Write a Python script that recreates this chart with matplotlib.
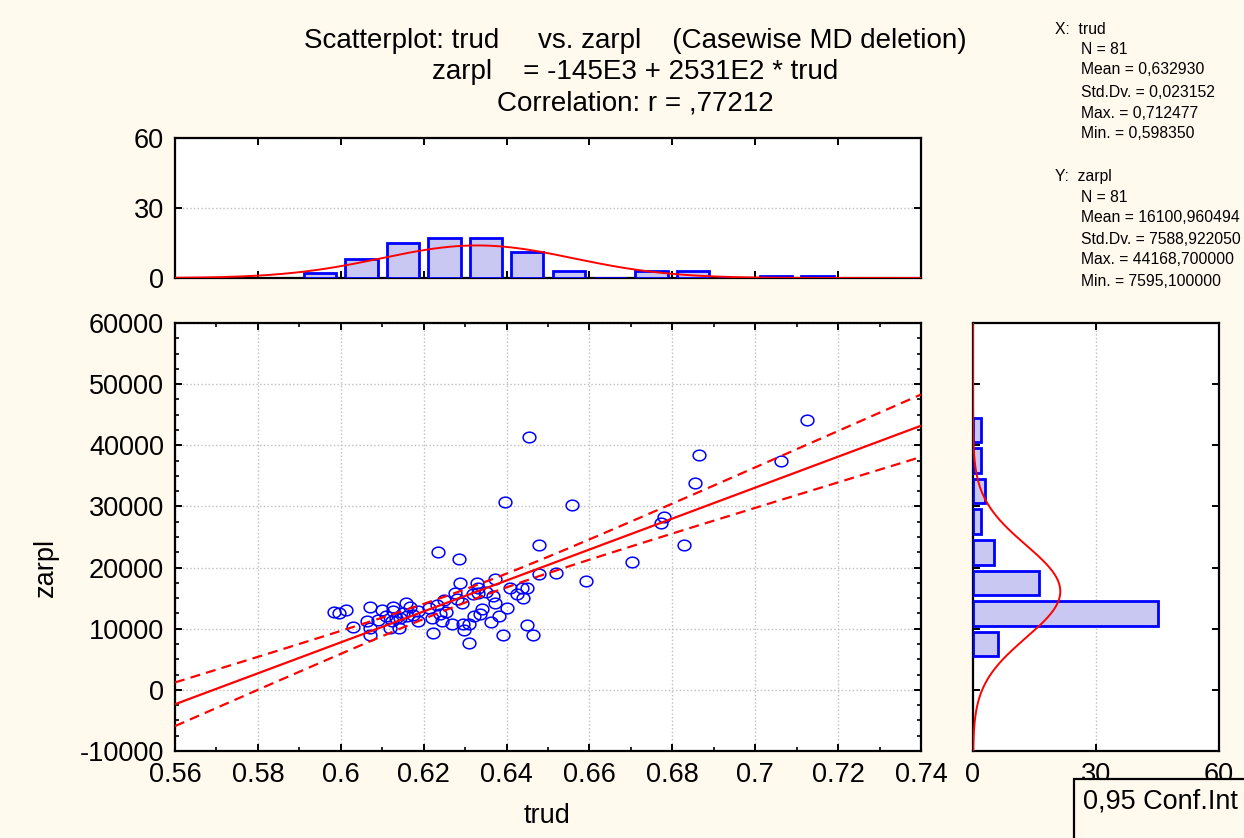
import numpy as np
import matplotlib
matplotlib.use('Agg')
import matplotlib.pyplot as plt
from matplotlib.path import Path
from matplotlib.patches import Rectangle
from matplotlib.ticker import MultipleLocator

plt.rcParams['font.family'] = ['Liberation Sans', 'DejaVu Sans']

# ---------------- data ----------------
trud = [
    0.5984, 0.5995,
    0.6012, 0.6030, 0.6071, 0.6063, 0.6071, 0.6071, 0.6091, 0.6099,
    0.6127, 0.6127, 0.6123, 0.6119, 0.6141, 0.6143, 0.6157, 0.6167, 0.6159, 0.6187,
    0.6187, 0.6150, 0.6133, 0.6175, 0.6110,
    0.6235, 0.6285, 0.6214, 0.6219, 0.6239, 0.6244, 0.6222, 0.6249, 0.6268, 0.6288,
    0.6276, 0.6280, 0.6292, 0.6297, 0.6296, 0.6255, 0.6232,
    0.6328, 0.6332, 0.6320, 0.6310, 0.6309, 0.6322, 0.6336, 0.6362, 0.6372, 0.6368,
    0.6372, 0.6382, 0.6391, 0.6396, 0.6332, 0.6350, 0.6340,
    0.6454, 0.6478, 0.6478, 0.6401, 0.6408, 0.6424, 0.6437, 0.6449, 0.6440, 0.6450, 0.6463,
    0.6558, 0.6592, 0.6519,
    0.6780, 0.6773, 0.6702,
    0.6864, 0.6854, 0.6828,
    0.7062,
    0.712477,
]
zarpl = [
    12807, 12500,
    13085, 10304, 13625, 11286, 10050, 8996, 11400, 13085,
    13625, 12921, 11286, 10100, 10150, 11830, 14180, 13625, 12103, 12921,
    11286, 12500, 11700, 12300, 12000,
    22571, 21426, 13461, 11830, 12381, 11286, 9274, 14720, 10844, 17550,
    15914, 14835, 14279, 9765, 10746, 12700, 13900,
    17550, 16732, 15652, 10844, 7595.1, 12103, 12381, 11122, 18106, 15375,
    14279, 12103, 8996, 30749, 15914, 16000, 13300,
    41380, 23716, 18973, 13363, 16732, 15652, 16732, 16732, 14999, 10631, 8996,
    30258, 17828, 19136,
    28296, 27314, 20936,
    38437, 33856, 23716,
    37455,
    44168.7,
]

# summary statistics shown in the chart
n_obs = 81
x_mean, x_sd, x_max, x_min = 0.632930, 0.023152, 0.712477, 0.598350
y_mean, y_sd, y_max, y_min = 16100.960494, 7588.922050, 44168.700000, 7595.100000
r_corr = 0.77212

x_ticks = [0.56, 0.58, 0.60, 0.62, 0.64, 0.66, 0.68, 0.70, 0.72, 0.74]
x_ticklabels = ['0.56', '0.58', '0.6', '0.62', '0.64', '0.66', '0.68', '0.7', '0.72', '0.74']
y_ticks = [-10000, 0, 10000, 20000, 30000, 40000, 50000, 60000]
y_ticklabels = ['-10000', '0', '10000', '20000', '30000', '40000', '50000', '60000']
hist_ticks = [0, 30, 60]

title_lines = [
    "Scatterplot: trud     vs. zarpl    (Casewise MD deletion)",
    "zarpl    = -145E3 + 2531E2 * trud",
    "Correlation: r = ,77212",
]
stats_lines = [
    ("X:  trud", 0), ("N = 81", 1), ("Mean = 0,632930", 1), ("Std.Dv. = 0,023152", 1),
    ("Max. = 0,712477", 1), ("Min. = 0,598350", 1),
    ("Y:  zarpl", 0), ("N = 81", 1), ("Mean = 16100,960494", 1), ("Std.Dv. = 7588,922050", 1),
    ("Max. = 44168,700000", 1), ("Min. = 7595,100000", 1),
]

# ---------------- style ----------------
W, H = 1244, 838
BG = '#FFF9EE'
BLUE = '#0000FF'
BARFILL = '#C8C8F2'
RED = '#FF0000'
GRID = '#BEBEBE'
FS = 19.5
FST = 20

fig = plt.figure(figsize=(W / 100, H / 100), dpi=100, facecolor=BG)

def fx(px):
    return px / W

def fy(py):
    return 1 - py / H

def axes_px(l, t, r, b):
    return fig.add_axes([fx(l), fy(b), fx(r) - fx(l), (b - t) / H])

ax = axes_px(175, 323, 921, 751)
axt = axes_px(175, 138, 921, 278)
axr = axes_px(973, 323, 1219, 751)

for a in (ax, axt, axr):
    a.set_facecolor('white')
    for s in a.spines.values():
        s.set_linewidth(1.6)
        s.set_color('black')

# ---------------- main scatter ----------------
th = np.linspace(0, 2 * np.pi, 64)
ell = Path(np.column_stack([1.2 * np.cos(th), np.sin(th)]), closed=True)
ax.plot(trud, zarpl, linestyle='none', marker=ell, markersize=9.2,
        markerfacecolor='none', markeredgecolor=BLUE, markeredgewidth=1.1, zorder=3)

slope = r_corr * y_sd / x_sd
intercept = y_mean - slope * x_mean
xs = np.linspace(0.56, 0.74, 300)
fit = intercept + slope * xs
s_e = y_sd * np.sqrt(1 - r_corr ** 2) * np.sqrt((n_obs - 1) / (n_obs - 2))
sxx = (n_obs - 1) * x_sd ** 2
se_fit = s_e * np.sqrt(1 / n_obs + (xs - x_mean) ** 2 / sxx)
tval = 1.9905
ax.plot(xs, fit, color=RED, lw=1.6, zorder=4)
ax.plot(xs, fit + tval * se_fit, color=RED, lw=1.6, ls=(0, (4.5, 2.8)), zorder=4)
ax.plot(xs, fit - tval * se_fit, color=RED, lw=1.6, ls=(0, (4.5, 2.8)), zorder=4)

ax.set_xlim(0.56, 0.74)
ax.set_ylim(-10000, 60000)
ax.set_xticks(x_ticks)
ax.set_xticklabels(x_ticklabels)
ax.set_yticks(y_ticks)
ax.set_yticklabels(y_ticklabels)
ax.xaxis.set_minor_locator(MultipleLocator(0.01))
ax.yaxis.set_minor_locator(MultipleLocator(2500))
ax.tick_params(which='major', direction='in', length=5, width=1.4, top=True, right=True,
               labelsize=FS, pad=8)
ax.tick_params(which='minor', direction='in', length=3, width=1.2, top=True, right=True)
ax.grid(True, which='major', color=GRID, linestyle=':', linewidth=1.0, zorder=0)
ax.set_axisbelow(True)

# ---------------- top histogram ----------------
x_edges = np.round(np.arange(0.59, 0.7201, 0.01), 2)
x_counts, _ = np.histogram(trud, bins=x_edges)
x_centers = (x_edges[:-1] + x_edges[1:]) / 2
axt.bar(x_centers, x_counts, width=0.0078, color=BARFILL, edgecolor=BLUE, linewidth=2.0, zorder=3)
xc = np.linspace(0.56, 0.74, 400)
axt.plot(xc, n_obs * 0.01 * np.exp(-0.5 * ((xc - x_mean) / x_sd) ** 2) / (x_sd * np.sqrt(2 * np.pi)),
         color=RED, lw=1.4, zorder=4)
axt.set_xlim(0.56, 0.74)
axt.set_ylim(0, 60)
axt.set_xticks(x_ticks)
axt.set_xticklabels([])
axt.set_yticks(hist_ticks)
axt.set_yticklabels([str(t) for t in hist_ticks])
axt.tick_params(direction='in', length=5, width=1.4, top=True, right=True, labelsize=FS, pad=8)
axt.yaxis.grid(True, color=GRID, linestyle=':', linewidth=1.0, zorder=0)
axt.set_axisbelow(True)

# ---------------- right histogram ----------------
y_edges = np.arange(5000, 45001, 5000)
y_counts, _ = np.histogram(zarpl, bins=y_edges)
y_centers = (y_edges[:-1] + y_edges[1:]) / 2
axr.barh(y_centers, y_counts, height=4000, color=BARFILL, edgecolor=BLUE, linewidth=2.0, zorder=3)
yc = np.linspace(-10000, 60000, 500)
axr.plot(n_obs * 5000 * np.exp(-0.5 * ((yc - y_mean) / y_sd) ** 2) / (y_sd * np.sqrt(2 * np.pi)), yc,
         color=RED, lw=1.4, zorder=4)
axr.set_xlim(0, 60)
axr.set_ylim(-10000, 60000)
axr.set_xticks(hist_ticks)
axr.set_xticklabels([str(t) for t in hist_ticks])
axr.set_yticks(y_ticks)
axr.set_yticklabels([])
axr.tick_params(direction='in', length=5, width=1.4, top=True, right=True, labelsize=FS, pad=8)
axr.xaxis.grid(True, color=GRID, linestyle=':', linewidth=1.0, zorder=0)
axr.set_axisbelow(True)

# ---------------- texts ----------------
for i, line in enumerate(title_lines):
    fig.text(fx(635), fy(41 + 31 * i), line, ha='center', va='center', fontsize=FST)

fig.text(fx(547), fy(816), 'trud', ha='center', va='center', fontsize=FS)
fig.text(fx(46), fy(567), 'zarpl', ha='center', va='center', fontsize=FS, rotation=90)

sy = [29, 49, 70, 92, 113, 134, 176, 197, 218, 239, 260, 281]
for (txt, ind), yy in zip(stats_lines, sy):
    fig.text(fx(1055 if ind == 0 else 1081), fy(yy), txt, ha='left', va='center', fontsize=11.3)

# legend-like box (bottom right)
fig.patches.append(Rectangle((fx(1074), fy(860)), fx(200), (860 - 779) / H,
                             transform=fig.transFigure, facecolor=BG, edgecolor='black',
                             linewidth=1.6, zorder=10))
fig.text(fx(1083), fy(801), '0,95 Conf.Int', ha='left', va='center', fontsize=FS, zorder=11)

fig.savefig('out.png', dpi=100, facecolor=BG)
